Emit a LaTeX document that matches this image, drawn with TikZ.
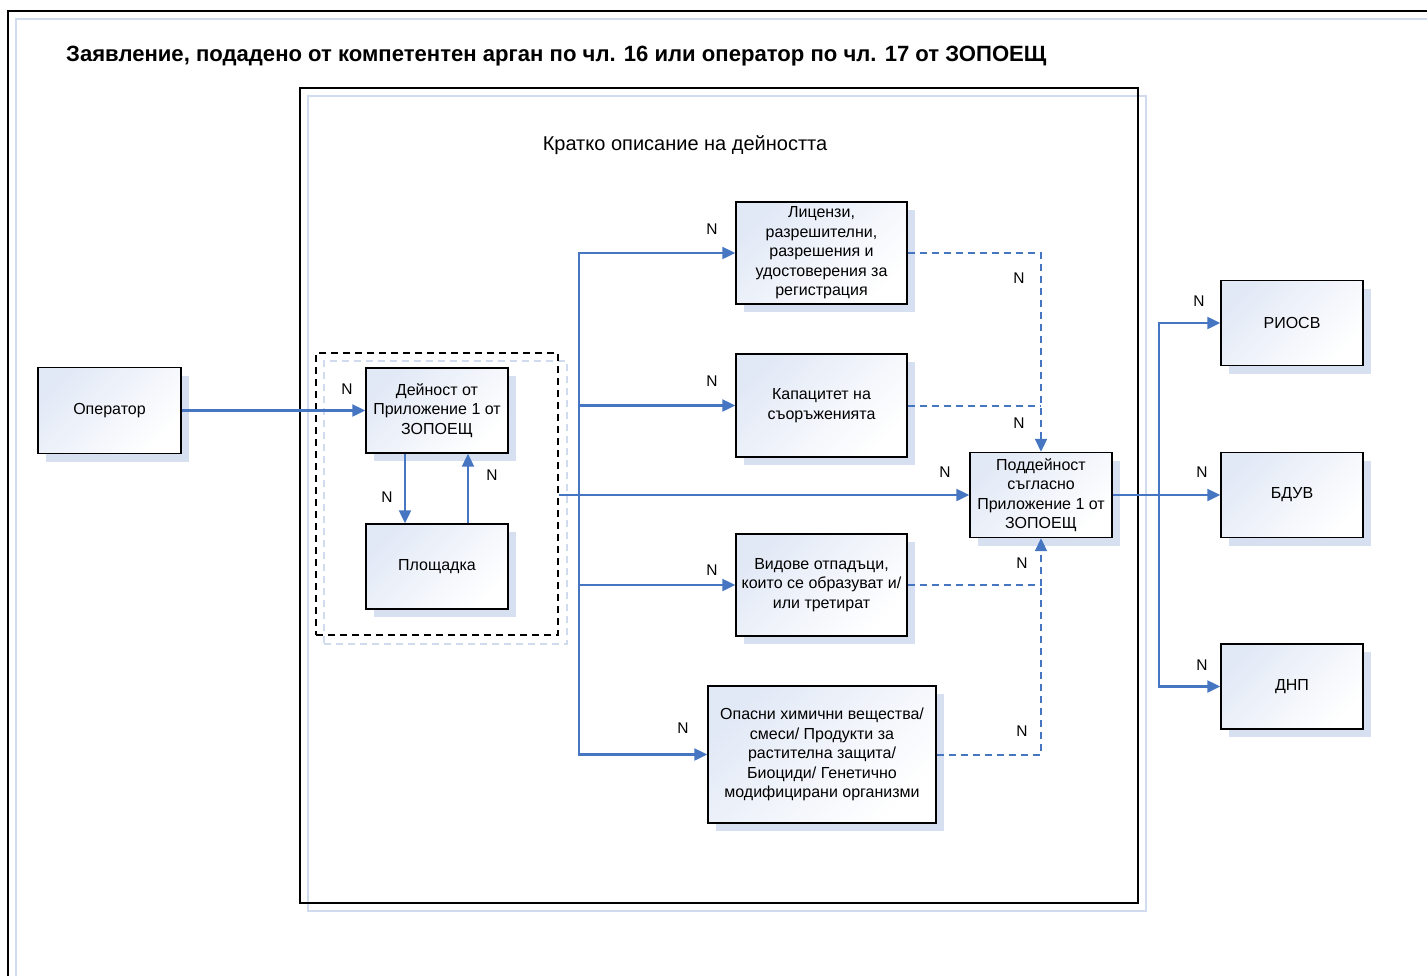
\documentclass[tikz,border=0pt]{standalone}
\usepackage{fontspec}
\setmainfont{Liberation Sans}
\usetikzlibrary{arrows.meta,shadows}
\definecolor{flowblue}{RGB}{70,118,194}
\definecolor{shadowc}{RGB}{214,224,240}
\definecolor{boxtop}{RGB}{226,233,246}
\definecolor{frameblue}{RGB}{208,220,238}
\tikzset{
  box/.style={draw=black, line width=1.4pt, left color=boxtop, right color=white, shading angle=45,
    drop shadow={shadow xshift=8pt, shadow yshift=-8pt, fill=shadowc, opacity=1},
    align=center, inner sep=2pt, font=\fontsize{16}{19.5}\selectfont},
  flow/.style={draw=flowblue, line width=2.2pt, -{Triangle[length=13pt,width=12pt]}},
  dflow/.style={draw=flowblue, line width=2pt, dash pattern=on 7pt off 5pt, -{Triangle[length=13pt,width=12pt]}},
  dline/.style={draw=flowblue, line width=2pt, dash pattern=on 7pt off 5pt},
  lbl/.style={font=\fontsize{15.5}{18}\selectfont, inner sep=0pt},
}
\begin{document}
\begin{tikzpicture}[x=1pt,y=-1pt]
\useasboundingbox (0,0) rectangle (1427,975);
% outer frame
\draw[frameblue, line width=1.4pt] (16,980) -- (16,19) -- (1432,19);
\draw[black, line width=1.4pt] (8,980) -- (8,11) -- (1432,11);
\node[anchor=west, font=\bfseries\fontsize{22.1}{26}\selectfont, inner sep=0pt] (title) at (66,56)
  {Заявление, подадено от компетентен арган по чл. 16 или оператор по чл. 17 от ЗОПОЕЩ};
% main container
\draw[frameblue, line width=1.4pt] (308,96) rectangle (1146,911);
\draw[black, line width=1.4pt] (300,88) rectangle (1138,903);
\node[font=\fontsize{20}{24}\selectfont, inner sep=0pt] (desc) at (685,145) {Кратко описание на дейността};
% dashed group
\node[draw=frameblue, dash pattern=on 7pt off 5pt, line width=1.4pt, minimum width=243pt, minimum height=283pt, inner sep=0pt] (grpsh) at (445.5,502.5) {};
\node[draw=black, dash pattern=on 7pt off 5pt, line width=1.4pt, minimum width=242pt, minimum height=282pt, inner sep=0pt] (grp) at (437,494) {};
% boxes
\node[box, minimum width=143pt, minimum height=86pt] (op) at (109.5,410.5) {Оператор};
\node[box, minimum width=142pt, minimum height=85pt] (dei) at (437,410.5) {Дейност от\\Приложение 1 от\\ЗОПОЕЩ};
\node[box, minimum width=142pt, minimum height=85pt] (pl) at (437,566.5) {Площадка};
\node[box, minimum width=171pt, minimum height=102pt] (lic) at (821.5,253) {Лицензи,\\разрешителни,\\разрешения и\\удостоверения за\\регистрация};
\node[box, minimum width=171pt, minimum height=103pt] (kap) at (821.5,405.5) {Капацитет на\\съоръженията};
\node[box, minimum width=142pt, minimum height=85pt] (sub) at (1041,495) {Поддейност\\съгласно\\Приложение 1 от\\ЗОПОЕЩ};
\node[box, minimum width=171pt, minimum height=102pt] (vid) at (821.5,585) {Видове отпадъци,\\които се образуват и/\\или третират};
\node[box, minimum width=228pt, minimum height=137pt] (opas) at (822,754.5) {Опасни химични вещества/\\смеси/ Продукти за\\растителна защита/\\Биоциди/ Генетично\\модифицирани организми};
\node[box, minimum width=142pt, minimum height=85pt] (riosv) at (1292,323) {РИОСВ};
\node[box, minimum width=142pt, minimum height=85pt] (bduv) at (1292,495) {БДУВ};
\node[box, minimum width=142pt, minimum height=85pt] (dnp) at (1292,686.5) {ДНП};
% connectors
\draw[flow] (op.east) -- (op.east -| dei.west);
\draw[flow] ([xshift=-32pt]dei.south) -- ([xshift=-32pt]pl.north);
\draw[flow] ([xshift=31pt]pl.north) -- ([xshift=31pt]dei.south);
\coordinate (tr) at (579,495);
\draw[flow] (grp.east |- sub.west) -- (sub.west);
\draw[flow] (tr) |- (lic.west);
\draw[flow] (tr) |- (kap.west);
\draw[flow] (tr) |- (vid.west);
\draw[flow] (tr) |- (opas.west);
\coordinate (rt) at (1159,495);
\draw[flow] (sub.east) -- (bduv.west);
\draw[flow] (rt) |- (riosv.west);
\draw[flow] (rt) |- (dnp.west);
\draw[dflow] (lic.east) -| (sub.north);
\draw[dline] (kap.east) -- (kap.east -| sub.north);
\draw[dflow] (vid.east) -| (sub.south);
\draw[dline] (opas.east) -- (opas.east -| sub.south) -- (vid.east -| sub.south);
% labels
\node[lbl] (n1) at (347,389) {N};
\node[lbl] (n2) at (387,497) {N};
\node[lbl] (n3) at (492,475) {N};
\node[lbl] (n4) at (712,229) {N};
\node[lbl] (n5) at (712,381) {N};
\node[lbl] (n6) at (945,472) {N};
\node[lbl] (n7) at (712,570) {N};
\node[lbl] (n8) at (683,728) {N};
\node[lbl] (n9) at (1019,278) {N};
\node[lbl] (n10) at (1019,423) {N};
\node[lbl] (n11) at (1022,563) {N};
\node[lbl] (n12) at (1022,731) {N};
\node[lbl] (n13) at (1199,301) {N};
\node[lbl] (n14) at (1202,472) {N};
\node[lbl] (n15) at (1202,665) {N};
\end{tikzpicture}
\end{document}
